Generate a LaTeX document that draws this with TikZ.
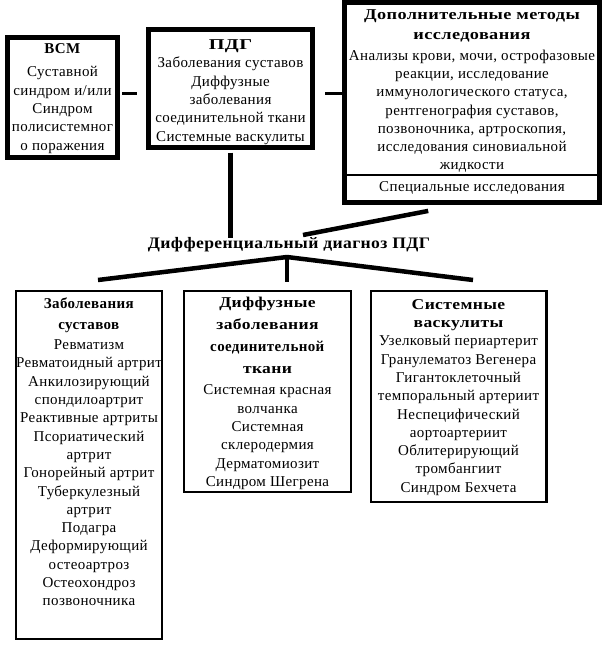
\documentclass[tikz,border=0pt]{standalone}
\usepackage{fontspec}
\setmainfont{Liberation Serif}[LetterSpace=2.5]
\usetikzlibrary{positioning}
\newcommand{\hd}[1]{{\bfseries\addfontfeature{FakeStretch=1.17}#1}}

\begin{document}
\begin{tikzpicture}[
  x=1pt, y=-1pt,
  font=\fontsize{15}{18.3}\selectfont,
  topbox/.style={draw, line width=4.5pt, inner sep=0pt, outer sep=0pt},
  lowbox/.style={draw, line width=2.2pt, inner sep=0pt, outer sep=0pt},
  boxtext/.style={align=center, inner sep=0pt},
  stub/.style={line width=3pt},
  trunk/.style={line width=4.5pt}
]
\useasboundingbox (0,0) rectangle (603,649);

% Top row
\node[topbox, minimum width=110pt, minimum height=120pt] (vsm) at (62.5,97.5) {};
\node[boxtext, below=6pt of vsm.north] (vsmtext)
  {\textbf{ВСМ}\\[5pt] Суставной\\ синдром и/или\\ Синдром\\ полисистемног\\ о поражения};

\node[topbox, minimum width=164pt, minimum height=118pt] (pdg) at (230.5,88.5) {};
\node[boxtext, below=10pt of pdg.north] (pdgtext)
  {{\bfseries\addfontfeature{FakeStretch=1.35}ПДГ}\\ Заболевания суставов\\ Диффузные\\ заболевания\\
   соединительной ткани\\ Системные васкулиты};

\node[topbox, minimum width=255pt, minimum height=200pt] (dop) at (472,102.5) {};
\node[boxtext, below=7pt of dop.north] (doptext)
  {{\bfseries\addfontfeature{FakeStretch=1.22}Дополнительные методы}\\[2pt]
   {\bfseries\addfontfeature{FakeStretch=1.22}исследования}\\[2pt]
   Анализы крови, мочи, острофазовые\\ реакции, исследование\\ иммунологического статуса,\\
   рентгенография суставов,\\ позвоночника, артроскопия,\\ исследования синовиальной\\ жидкости};
\coordinate (sepl) at (344.5,175);
\draw[line width=1.6pt] (sepl) -- (sepl -| dop.east);
\node[boxtext, anchor=center] (special) at (472,188) {Специальные исследования};

% Links between the top boxes
\draw[stub, shorten <=4.5pt, shorten >=11.5pt]
  ([yshift=4.5pt]vsm.east) -- ([yshift=4.5pt]vsm.east -| pdg.west);
\draw[stub, shorten <=12.5pt, shorten >=2pt]
  ([yshift=-4.5pt]pdg.east) -- ([yshift=-4.5pt]pdg.east -| dop.west);

% Differential diagnosis
\node[boxtext, font=\fontsize{16}{18}\selectfont\bfseries\addfontfeature{FakeStretch=1.1}] (diag) at (289,245)
  {Дифференциальный диагноз ПДГ};
\draw[trunk, shorten <=5pt] (pdg.south) -- (pdg.south |- diag.north);
\coordinate (upr) at (303,235);
\draw[trunk, shorten >=44.6pt] (upr) -- (dop.south);

\coordinate (apex) at (287,257);
\coordinate (fanl) at (98,280);
\coordinate (fanm) at (287,282);
\coordinate (fanr) at (473,280);
\draw[trunk] (apex) -- (fanl);
\draw[trunk] (apex) -- (fanm);
\draw[trunk] (apex) -- (fanr);

% Lower row
\node[lowbox, minimum width=145.8pt, minimum height=347.8pt] (joints) at (89,465) {};
\node[boxtext, below=6pt of joints.north] (jointstext)
  {\textbf{Заболевания}\\[3.5pt] \textbf{суставов}\\[1.5pt]
   Ревматизм\\ Ревматоидный артрит\\ Анкилозирующий\\ спондилоартрит\\
   Реактивные артриты\\ Псориатический\\ артрит\\ Гонорейный артрит\\
   Туберкулезный\\ артрит\\ Подагра\\ Деформирующий\\ остеоартроз\\
   Остеохондроз\\ позвоночника};

\node[lowbox, minimum width=166.8pt, minimum height=200.8pt] (diffuse) at (267.5,391.5) {};
\node[boxtext, below=6pt of diffuse.north] (diffusetext)
  {\hd{Диффузные}\\[3.5pt] \hd{заболевания}\\[3.5pt] \textbf{соединительной}\\[3.5pt]
   \hd{ткани}\\[3.5pt]
   Системная красная\\ волчанка\\ Системная\\ склеродермия\\ Дерматомиозит\\ Синдром Шегрена};

\node[lowbox, minimum width=175.8pt, minimum height=210.8pt] (vasc) at (458.5,396.5) {};
\node[boxtext, below=8pt of vasc.north] (vasctext)
  {\hd{Системные}\\ \hd{васкулиты}\\
   Узелковый периартерит\\ Гранулематоз Вегенера\\ Гигантоклеточный\\
   темпоральный артериит\\ Неспецифический\\ аортоартериит\\ Облитерирующий\\
   тромбангиит\\ Синдром Бехчета};

\end{tikzpicture}
\end{document}
